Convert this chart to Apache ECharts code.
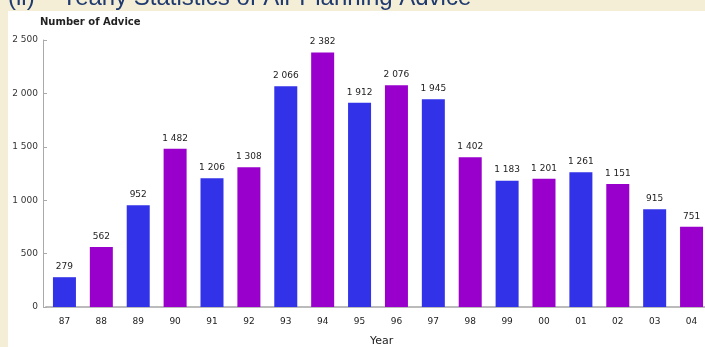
<!DOCTYPE html>
<html><head><meta charset="utf-8">
<script src="https://cdn.jsdelivr.net/npm/echarts@6/dist/echarts.min.js"></script>
<style>html,body{margin:0;padding:0;background:#fff;overflow:hidden}#c{width:712px;height:347px}</style>
</head><body><div id="c"></div>
<script>
var years = ['87','88','89','90','91','92','93','94','95','96','97','98','99','00','01','02','03','04'];
var advice = [279,562,952,1482,1206,1308,2066,2382,1912,2076,1945,1402,1183,1201,1261,1151,915,751];
var barColors = ['#3232e8','#9900cc'];
var titleText = '(ii)    Yearly Statistics of Air Planning Advice';
var yName = 'Number of Advice';
var xName = 'Year';

function fmt(v){ return String(v).replace(/\B(?=(\d{3})+(?!\d))/g, ' '); }
var FONT = '"DejaVu Sans", Verdana, sans-serif';

var chart = echarts.init(document.getElementById('c'));
chart.setOption({
  backgroundColor: '#ffffff',
  animation: false,
  graphic: [
    {type:'rect', z:-20, shape:{x:0,y:0,width:712,height:11}, style:{fill:'#f5eed6'}},
    {type:'rect', z:-20, shape:{x:0,y:0,width:8,height:347}, style:{fill:'#f5eed6'}},
    {type:'text', z:-19, left: 8, top: -14, style:{text:titleText, font:'24px "Liberation Sans", Arial, sans-serif', fill:'#1f3a6e'}},
    {type:'rect', z:-18, shape:{x:8,y:11,width:704,height:336}, style:{fill:'#ffffff'}},
    {type:'text', left: 370, top: 336, style:{text:xName, font:'11px ' + FONT, fill:'#222'}}
  ],
  grid: {left: 46, right: 2, top: 40, bottom: 40, containLabel: false},
  xAxis: {
    type: 'category',
    data: years,
    boundaryGap: true,
    axisLine: {lineStyle: {color: '#bbbbbb', width: 2}},
    axisTick: {show: false},
    axisLabel: {color: '#222', fontSize: 9, margin: 10, fontFamily: FONT}
  },
  yAxis: {
    type: 'value',
    min: 0, max: 2500, interval: 500,
    offset: 3,
    name: yName,
    nameLocation: 'end',
    nameGap: 13,
    nameTextStyle: {align: 'left', color: '#222', fontSize: 10, fontWeight: 'bold', padding: [0,0,0,-3], fontFamily: FONT},
    axisLine: {show: true, lineStyle: {color: '#aaaaaa', width: 1}},
    axisTick: {show: true, inside: true, length: 4, lineStyle: {color: '#aaaaaa'}},
    splitLine: {show: false},
    axisLabel: {color: '#333', fontSize: 9, margin: 5, formatter: fmt, fontFamily: FONT}
  },
  series: [{
    type: 'bar',
    data: advice.map(function(v, i){ return {value: v, itemStyle: {color: barColors[i % 2]}}; }),
    barWidth: 23,
    label: {show: true, position: 'top', distance: 6, color: '#222', fontSize: 9, formatter: function(p){ return fmt(p.value); }, fontFamily: FONT}
  }]
});
</script></body></html>
